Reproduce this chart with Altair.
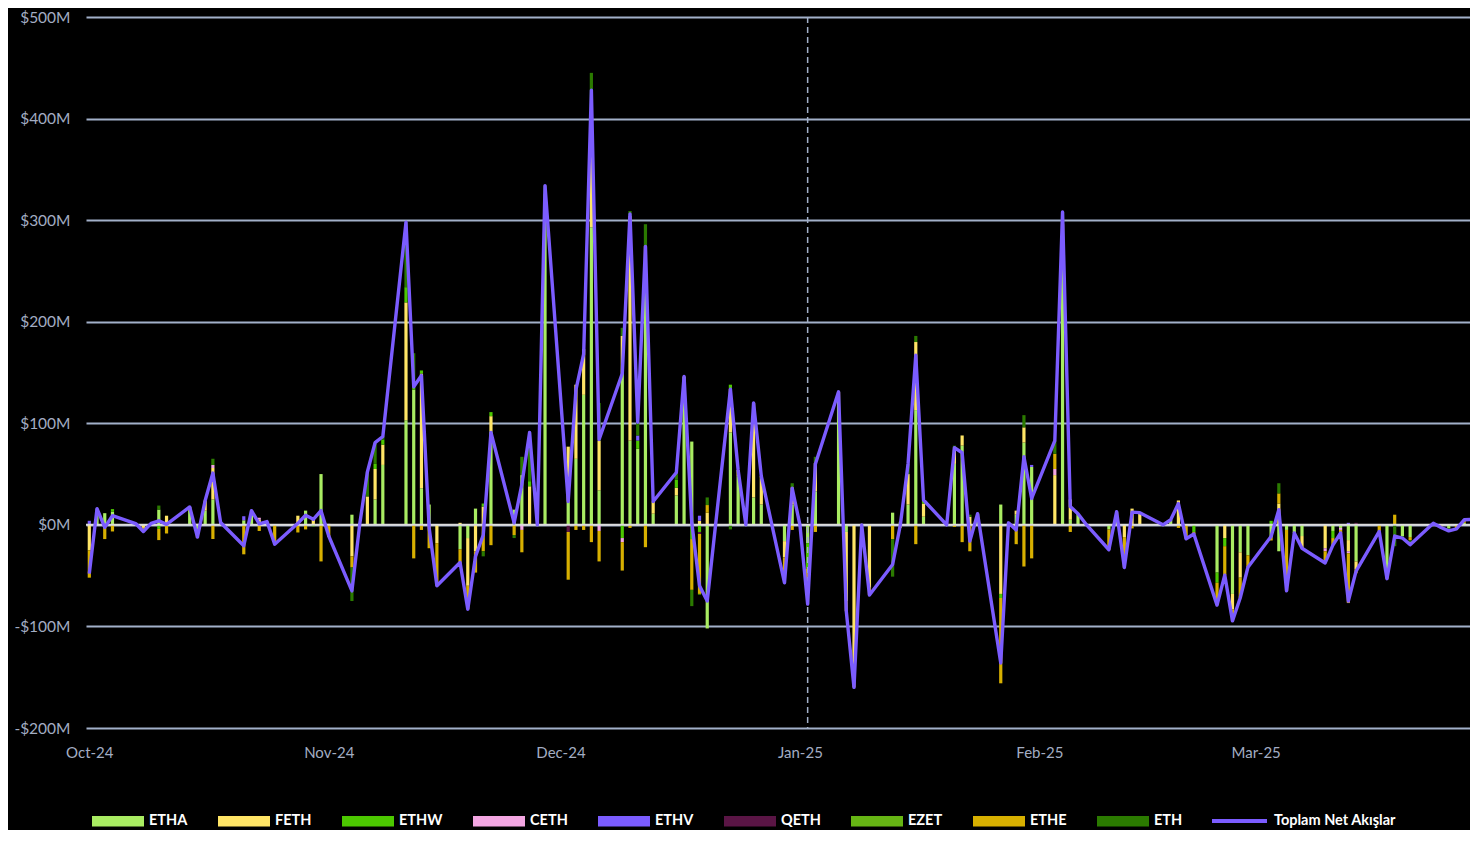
import altair as alt
import pandas as pd

# ---- trading days (market holidays kept with zero flow, as in the sheet) ----
oct_days = [1, 2, 3, 4, 7, 8, 9, 10, 11, 14, 15, 16, 17, 18, 21, 22, 23, 24, 25, 28, 29, 30, 31]
nov_days = [1, 4, 5, 6, 7, 8, 11, 12, 13, 14, 15, 18, 19, 20, 21, 22, 25, 26, 27, 28, 29]
dec_days = [2, 3, 4, 5, 6, 9, 10, 11, 12, 13, 16, 17, 18, 19, 20, 23, 24, 25, 26, 27, 30, 31]
jan_days = [1, 2, 3, 6, 7, 8, 9, 10, 13, 14, 15, 16, 17, 20, 21, 22, 23, 24, 27, 28, 29, 30, 31]
feb_days = [3, 4, 5, 6, 7, 10, 11, 12, 13, 14, 17, 18, 19, 20, 21, 24, 25, 26, 27, 28]
mar_days = [3, 4, 5, 6, 7, 10, 11, 12, 13, 14, 17, 18, 19, 20, 21, 24, 25, 26, 27, 28, 31]

dates = ([f"2024-10-{d:02d}" for d in oct_days] + [f"2024-11-{d:02d}" for d in nov_days]
         + [f"2024-12-{d:02d}" for d in dec_days] + [f"2025-01-{d:02d}" for d in jan_days]
         + [f"2025-02-{d:02d}" for d in feb_days] + [f"2025-03-{d:02d}" for d in mar_days])

# ---- daily flows, $M (rows: Oct / Nov / Dec / Jan / Feb / Mar) ----
ETHA = [0, 13, 11.5, 13, 1.3, 0, 1.5, 15, 0, 14, -5, 14, 25, 2.3, 4.5, 14, 0, 3.3, 0, 0, 14, 0, 50,
        0, 10, 0, 0, 25, 59, 103, 133, 36, 20, 0, -24, -13, 16, 0, 92, 15, 49, 0, 0, 300,
        23, 65, 128, 293, 34, 150, 83, 75, 255, 11, 29, 133, 82, 0, -102, 91, 48, 0, 27, 20, -16, 20,
        0, -18, 33, 124, -7, 0, 0, 0, 12, 3, 20, 113, 8, 0, 60, 78, 0, 11, 20, 2, 10, 81, 57,
        0, 276, 5, 11, 1, -4.5, 13, 0, 0, 0, 0, 5, 0, 0, 0, -47, 0, -68, -27, -30,
        -12, -26, -5, -8, -11, 0, -6, -3, -15, -36, 0, -45, 0, -11, -12, 1.6, 0, -3.6, 0, 2, 6]
FETH = [-25, 0, 0, 0, 0, -3, 0, 0, 9, 3.6, 1, 10, 31, 0, 0, 0, 5, 0, 0, 9, 0, 7, 0,
        0, -31, 0, 28, 30, 20, 116, 0, 113, 0, -18, 2, -47, -26, 18, 15, 0, 0, 38, 0, 20,
        54, 73, 45, 93, 49, 36, 221, 0, 20, 12, 7.5, 13, 0, 4, 12, 43, 6, 0, 93, 28, -16, 17,
        0, 0, 28, 7, -68, -147, 0, -62, 0, 0, 30, 67, 13, 0, 14, 10, 8, 0, -68, 0, 4, 15, 0,
        49, 20, 20, 0, 0, 0, 0, -12, 16, 12, 0, 0, 24, 0, 0, 0, -13, -15, -25, 0,
        0, 21, 0, 0, -12, -23, 0, 0, -11, -8, 0, 0, 0, 0, 0, 0, 0, 0, 0, 0, 0]
ETHW = [0, 3, 0, 2.5, 0, 0, 0, -4, 0, 0, 0, 0, 0, 0, 0, 0, 0, 0, 0, 0, 0, -1.5, 0,
        0, 0, 0, 0, 5, 5, 15, 3, 3, 0, 0, 0, 0, 0, 3, 4, 0, 0, 5, 0, 6,
        0, 0, 0, 14, 0, -13, 0, 8, 0, 0, 8, 0, -14, -7, 0, 4, 0, 0, 0, 0, 0, 0,
        0, -25, 0, 0, 0, 0, 0, 0, 0, 0, 0, 0, 3.5, 0, 0, 0, 0, 0, -4, 0, 0, 0, 0,
        0, 0, 0, 0, 0, 0, 0, 0, 0, 0, 0, 0, 0, 0, -7, -10, -8, 0, 0, 0,
        4, 0, 0, 0, 0, 0, -7, 0, 0, 0, 0, 0, 0, 0, 0, 0, 0, 0, 0, 0, 0]
CETH = [0, 0, 0, 0, 0, 0, 0, 0, 0, 0, 0, 0, 3, 0, 0, 0, 2, 0, 0, 0, 0, 0, 0,
        1, 0, 0, 0, 0, 0, 0, 0, 0, 0, 0, 0, 0, 0, 0, 0, 0, -5, 0, 0, 0,
        0, 0, 0, 0, -6, -4, 0, 0, 0, 0, 0, 0, 0, 0, 0, 0, 0, 0, 0, 0, 0, 0,
        0, 0, 0, 0, 0, 0, 0, 0, 0, 0, 0, 0, 0, 0, 0, 0, 0, 0, 0, 0, 0, 0, 0,
        6, 0, 0, 0, 0, 0, 0, 0, 0, 0, 0, 0, 0, 0, 0, 0, 0, 0, 0, 0,
        0, 0, 0, 0, 0, -3, 0, -2, -2, 0, 0, 0, 0, 0, 0, 0, 0, 0, 0, 0, 0]
ETHV = [4, 0, 0, 0, 0, 0, 0, 0, 0, 0, 0, 0, 0, 0, 4, 0, 0, 0, 0, 0, 0, 0, 0,
        0, 0, 0, 0, 0, 0, 0, 0, 0, 0, 0, 0, 0, 0, 0, 0, 0, 0, 0, 0, 0,
        0, 0, 0, 0, 0, 0, 0, 5, 0, 0, 0, 0, 0, 5, 0, 0, 0, 0, 0, 0, 0, 0,
        0, 0, 0, 0, 0, 0, 0, 0, 0, 0, 0, 0, 0, 0, 0, 0, 0, 0, 0, 0, 0, 0, 2,
        0, 0, 0, 0, 0, 0, 0, 0, 0, 0, 0, 0, 0, 0, 0, 0, 0, 0, 0, 0,
        0, 0, 0, 0, 0, 0, 0, 0, 2, 0, 0, 0, 0, 0, 0, 0, 0, 0, 0, 0, 0]
QETH = [0, 0, 0, 0, 0, 0, 0, 0, 0, 0, 0, 0, 0, 0, 0, 0, 0, 0, 0, 0, 0, 0, 0,
        0, 0, 0, 0, 0, 0, 0, 0, 0, 0, 0, 0, 0, 0, 0, 0, 0, 0, 0, 0, 0,
        -7, 0, 0, 0, 0, 0, 0, 0, 0, 0, 0, 0, 0, -2, 0, 0, 0, 0, 0, 0, 0, 0,
        0, 0, 0, 0, 0, 0, 0, 0, 0, 0, 0, 0, 0, 0, 0, 0, 0, 0, 0, 0, 0, 0, 0,
        0, 0, 0, 0, 0, 0, 0, 0, 0, 0, 0, 0, 0, 0, 0, 0, 0, 0, 0, 0,
        0, 0, 0, 0, 0, 0, 0, 0, 0, 2, 0, 0, 0, 0, 0, 0, 0, 0, 0, 0, 0]
EZET = [0, 0, 0, 0, 0, 0, 0, 0, 0, 0, 0, 0, 0, 0, 0, 0, 0, 0, 0, 0, 0, 0, 0,
        0, 0, 0, 0, 0, 0, 0, 0, 0, 0, 0, 0, 0, 0, 0, 0, 0, 0, 0, 0, 0,
        0, 0, 0, 0, 0, 0, 0, 0, 0, 0, 0, 0, 0, 0, 0, 0, 0, 0, 0, 0, 0, 0,
        0, 0, 0, 0, 0, 0, 0, 0, 0, 0, 0, 0, 0, 0, 0, 0, 0, 0, 0, 0, 0, 0, 0,
        0, 0, 0, 0, 0, 0, 0, 0, 0, 0, 0, 0, 0, 0, 0, 0, 0, 0, 0, 0,
        0, 0, 0, 0, 0, 0, 0, 0, 0, 0, 0, 0, 0, 0, 0, 0, 0, 0, 0, 0, 0]
ETHE = [-27, 0, -14, -6.5, 0, -3.5, 0, -11, -8.5, 0, -8, 0, -14, 0, -29, 0, -6, 0, -19, -7.5, -4.5, 0, -36,
        -12, -11, 0, 0, 0, 0, 0, -33, -5, -23, -42, -15, -23, -21, -26, -20, -10, -22, 0, 0, 0,
        -47, -5, -5, -17, -30, -28, -3, 0, -22, 0, 0, 0, -50, -59, 7.5, 0, 0, 0, 0, 0, -20, -5,
        0, -20, -7, 0, -10, -13, 0, -7, -14, -3, 0, -19, 0, 0, -2, -17, -26, 0, -84, 0, -19, -41, -33,
        15, 0, -7, 0, 0, -20, 0, -30, -3.5, 0, 0, 0, -3, -13.7, -2, -22, -28.5, -11.5, -20, -11.7,
        -3.4, 10, -60, 0, 0, -11.5, -7, -3, -49, -3.6, -6.5, -8, 10, 0, -3, 0, -2.6, 0, -3.9, 3, 0]
ETH = [0, 0, 0, 0, 0, 0, 0, 4, 0, 0, 0, 0, 6, 0, 0, 0, 0, 0, 0, 0, 0, 0, 0,
       0, -33, 0, 24, 21, 3, 64, 33, 0, 0, 0, 0, 0, 0, -5, 0, -3, 18, 48, 0, 8,
       0, 0, 0, 45, 37, 8, 5, 13, 21, 0, 7, 0, -16, -1, 7.5, -4.5, 0, 0, 0, 0, -5, 4,
       0, -15, 6, 0, 0, 0, 0, 0, -37, 0, 10, 6, 0, 0, 4, 0, 2, 0, 0, 0, 0, 12, 0,
       13, 12, 0, 0, 0, 0, 0, 0, 0, 0, 0, 0, 0, 0, 0, 0, 0, 0, 0, 0,
       0, 10, 0, 0, 0, 0, 0, 0, 0, 0, 0, 0, -21, -2, -4.5, 0, 0, -2.3, 0, 0, 0]
TOTAL = [-48, 16, -2.5, 9, 1.3, -6.5, 1.5, 4, 0.5, 17.6, -12, 24, 51, 2.3, -20.5, 14, 1, 3.3, -19, 1.5, 9.5, 5.5, 14,
         -11, -65, 0, 52, 81, 87, 298, 136, 147, -3, -60, -37, -83, -31, -10, 91, 2, 40, 91, 0, 334,
         23, 133, 168, 428, 84, 149, 306, 101, 274, 23, 51.5, 146, 2, -60, -75, 133.5, 54, 0, 120, 48, -57, 36,
         0, -78, 60, 131, -85, -160, 0, -69, -39, 0, 60, 167, 24.5, 0, 76, 71, -16, 11, -136, 2, -5, 67, 26,
         83, 308, 18, 11, 1, -24.5, 13, -42, 12.5, 12, 0, 5, 21, -13.7, -9, -79, -49.5, -94.5, -72, -41.7,
         -11.4, 15, -65, -8, -23, -37.5, -20, -8, -75, -45.6, -6.5, -53, -11, -13, -19.5, 1.6, -2.6, -5.9, -3.9, 5, 6]

names = ["ETHA", "FETH", "ETHW", "CETH", "ETHV", "QETH", "EZET", "ETHE", "ETH"]
colors = ["#A9EC62", "#FFE566", "#4CC800", "#F3A6E2", "#7B5CFF", "#5A1545", "#66B514", "#D8B000", "#2B7A00"]
series = [ETHA, FETH, ETHW, CETH, ETHV, QETH, EZET, ETHE, ETH]
line_name = "Toplam Net Akışlar"
line_color = "#7B5CFF"
marker_date = ["2025-01-02"]

for s in series + [TOTAL]:
    assert len(s) == len(dates), len(s)

rows = []
for k, (n, vals) in enumerate(zip(names, series)):
    for d, v in zip(dates, vals):
        if v != 0:
            rows.append({"date": d, "etf": n, "value": v, "k": k})
bars_df = pd.DataFrame(rows)
total_df = pd.DataFrame({"date": dates, "total": TOTAL, "series": line_name})

GRID = "#A2B0C9"
LAB = "#A3ADC3"
FONT = "Lato"

xscale = alt.Scale(type="utc", padding=0, domain=[
    alt.DateTime(year=2024, month=9, date=30, hours=13, minutes=45, utc=True),
    alt.DateTime(year=2025, month=3, date=28, hours=18, utc=True)])
yscale = alt.Scale(domain=[-200, 500], nice=False, zero=False)

xaxis = alt.Axis(values=[alt.DateTime(year=2024, month=10, date=1, utc=True),
                         alt.DateTime(year=2024, month=11, date=1, utc=True),
                         alt.DateTime(year=2024, month=12, date=1, utc=True),
                         alt.DateTime(year=2025, month=1, date=1, utc=True),
                         alt.DateTime(year=2025, month=2, date=1, utc=True),
                         alt.DateTime(year=2025, month=3, date=1, utc=True)],
                 format="%b-%y", grid=False, domain=False, ticks=False, labelFlush=False,
                 labelColor=LAB, labelFont=FONT, labelFontSize=15, labelPadding=17,
                 labelAlign="center")
yaxis = alt.Axis(values=[-200, -100, 0, 100, 200, 300, 400, 500],
                 labelExpr="datum.value < 0 ? '-$' + (-datum.value) + 'M' : '$' + datum.value + 'M'",
                 grid=True, gridColor=GRID, gridWidth=1.8, domain=False, ticks=False,
                 labelColor=LAB, labelFont=FONT, labelFontSize=15.5, labelPadding=16)

bar_legend = alt.Legend(orient="none", legendX=6, legendY=778, direction="horizontal", title=None,
                        symbolType="M-1,-0.2L1,-0.2L1,0.2L-1,0.2Z", symbolSize=2704,
                        symbolStrokeWidth=0, symbolOpacity=1, labelColor="#FFFFFF", labelFont=FONT,
                        labelFontWeight="bold", labelFontSize=14.5, labelOffset=5,
                        columnPadding=30, padding=0)
line_legend = alt.Legend(orient="none", legendX=1124, legendY=774.5, direction="horizontal", title=None,
                         symbolType="stroke", symbolSize=3025, symbolStrokeWidth=4,
                         labelColor="#FFFFFF", labelFont=FONT, labelFontWeight="bold",
                         labelFontSize=14.5, labelOffset=5, padding=0)

bars = alt.Chart(bars_df).mark_bar(size=3.2, clip=True).encode(
    x=alt.X("date:T", scale=xscale, axis=xaxis, title=None),
    y=alt.Y("value:Q", stack="zero", scale=yscale, axis=yaxis, title=None),
    color=alt.Color("etf:N", scale=alt.Scale(domain=names, range=colors), legend=bar_legend),
    order=alt.Order("k:Q", sort="ascending"),
)

zero = alt.Chart(pd.DataFrame({"v": [0]})).mark_rule(color="#DCDCDC", strokeWidth=2).encode(
    y=alt.Y("v:Q", scale=yscale))

marker = alt.Chart(pd.DataFrame({"date": marker_date})).mark_rule(
    color=GRID, strokeWidth=1.5, strokeDash=[6, 4]).encode(
    x=alt.X("date:T", scale=xscale))

line = alt.Chart(total_df).mark_line(strokeWidth=3.4, clip=True, strokeJoin="round").encode(
    x=alt.X("date:T", scale=xscale),
    y=alt.Y("total:Q", scale=yscale),
    stroke=alt.Stroke("series:N", scale=alt.Scale(domain=[line_name], range=[line_color]),
                      legend=line_legend),
)

chart = alt.layer(bars, zero, marker, line).properties(
    width=1384, height=711,
    padding={"left": 78, "top": 9, "right": 0, "bottom": 102},
    autosize=alt.AutoSizeParams(type="none"),
).configure(background="#000000").configure_view(strokeWidth=0)

chart.save("out.html", embed_options={"renderer": "svg", "actions": False})
